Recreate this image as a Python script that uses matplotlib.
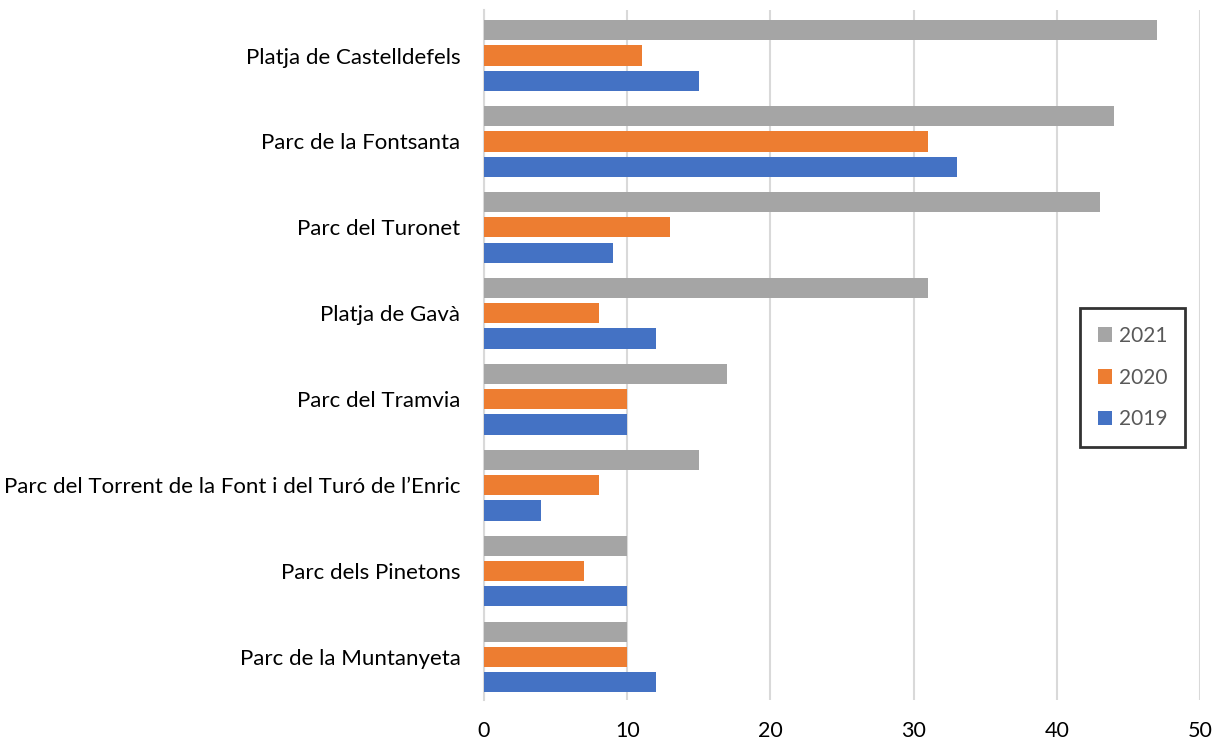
import matplotlib.pyplot as plt
import numpy as np

plt.rcParams['font.family'] = ['Lato', 'DejaVu Sans']

# parks, listed top to bottom as in the chart
parks = ['Platja de Castelldefels', 'Parc de la Fontsanta', 'Parc del Turonet',
         'Platja de Gavà', 'Parc del Tramvia',
         'Parc del Torrent de la Font i del Turó de l\u2019Enric',
         'Parc dels Pinetons', 'Parc de la Muntanyeta']
v2021 = [47, 44, 43, 31, 17, 15, 10, 10]
v2020 = [11, 31, 13, 8, 10, 8, 7, 10]
v2019 = [15, 33, 9, 12, 10, 4, 10, 12]
years = ['2021', '2020', '2019']
colors = ['#A5A5A5', '#ED7D31', '#4472C4']

fig = plt.figure(figsize=(12.17, 7.42), dpi=100)
ax = fig.add_axes([484 / 1217, 42 / 742, (1200 - 484) / 1217, 690 / 742])

y = np.arange(len(parks))
step = 0.294
h = 0.235
for k, (vals, lab, col) in enumerate(zip([v2021, v2020, v2019], years, colors)):
    ax.barh(y + (k - 1) * step, vals, height=h, color=col, label=lab, zorder=3)

ax.set_ylim(len(parks) - 0.5, -0.53)
ax.set_xlim(0, 50)
ax.set_xticks(np.arange(0, 51, 10))
ax.set_yticks(y)
ax.set_yticklabels(parks)
ax.tick_params(axis='both', length=0, labelsize=15.5, colors='black')
ax.tick_params(axis='y', labelsize=16, pad=17)
ax.tick_params(axis='x', pad=15)
ax.grid(axis='x', color='#D9D9D9', linewidth=1.5, zorder=0)
for s in ['top', 'right', 'bottom']:
    ax.spines[s].set_visible(False)
ax.spines['left'].set_color('#D9D9D9')
ax.spines['left'].set_linewidth(1.5)

leg = ax.legend(loc='upper left', bbox_to_anchor=((1080 - 484) / 716, 1 - (308 - 10) / 690),
                frameon=True, fancybox=False, fontsize=15, labelcolor='#595959',
                handlelength=0.7, handleheight=0.7, handletextpad=0.3,
                labelspacing=1.05, borderpad=0.85, borderaxespad=0)
leg.get_frame().set_edgecolor('black')
leg.get_frame().set_linewidth(2)

fig.savefig('out.png', dpi=100)
